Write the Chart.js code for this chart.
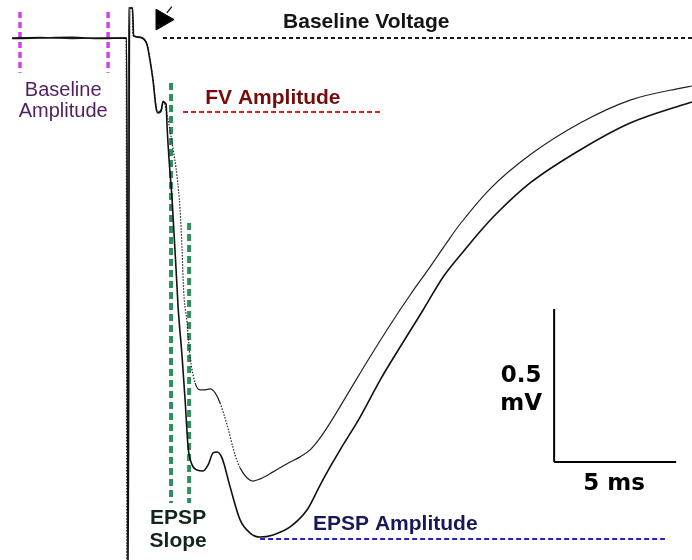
<!DOCTYPE html>
<html>
<head>
<meta charset="utf-8">
<script src="https://cdn.jsdelivr.net/npm/chart.js@4/dist/chart.umd.min.js"></script>
<style>
  html, body { margin: 0; padding: 0; background: #fff; }
  #wrap { width: 692px; height: 560px; }
</style>
</head>
<body>
<div id="wrap"><canvas id="trace" width="692" height="560"></canvas></div>
<script>
// two field EPSP sweeps: time in ms (stimulus at 0), voltage in mV (baseline at 0)
const upperTime = [-4.754, -3.607, -2.295, -1.148, -0.082, -0.041, 0.020, 0.164, 0.205, 0.492,
  0.656, 0.779, 0.902, 1.025, 1.148, 1.230, 1.352, 1.434, 1.639, 1.803,
  2.008, 2.131, 2.213, 2.275, 2.418, 2.541, 2.746, 2.951, 3.156, 3.361,
  3.566, 3.770, 4.057, 4.385, 4.590, 4.877, 5.123, 5.410, 5.943, 6.639,
  7.049, 7.459, 7.869, 8.279, 9.098, 9.918, 10.738, 11.557, 12.377, 13.074,
  13.607, 14.836, 16.475, 18.525, 20.574, 22.705, 23.115];
const upperVolt = [0, 0.002, -0.002, 0, 0, -1.837, 0.098, 0.098, 0.007, 0.003,
  -0.003, -0.020, -0.072, -0.137, -0.225, -0.242, -0.235, -0.206, -0.268, -0.343,
  -0.454, -0.562, -0.693, -0.824, -0.931, -1.042, -1.127, -1.150, -1.150, -1.147,
  -1.160, -1.193, -1.265, -1.363, -1.405, -1.438, -1.448, -1.441, -1.418, -1.386,
  -1.369, -1.346, -1.307, -1.258, -1.150, -1.042, -0.938, -0.840, -0.748, -0.667,
  -0.608, -0.493, -0.382, -0.278, -0.203, -0.163, -0.157];

const lowerTime = [-4.754, -3.607, -2.295, -1.148, -0.061, 0, 0.061, 0.184, 0.225, 0.492,
  0.656, 0.779, 0.902, 1.025, 1.148, 1.230, 1.352, 1.434, 1.557, 1.598,
  1.680, 1.803, 1.885, 1.967, 2.049, 2.213, 2.336, 2.459, 2.623, 2.828,
  3.074, 3.279, 3.484, 3.648, 3.852, 4.180, 4.590, 5.000, 5.410, 5.943,
  6.639, 7.336, 7.869, 8.279, 8.689, 9.508, 10.328, 11.148, 12.090, 12.910,
  13.893, 14.549, 15.123, 16.475, 18.525, 20.574, 22.705, 23.115];
const lowerVolt = [-0.002, 0, 0.002, -0.002, 0, -1.837, 0.098, 0.098, 0.007, 0.002,
  -0.005, -0.023, -0.075, -0.141, -0.229, -0.245, -0.239, -0.209, -0.216, -0.291,
  -0.399, -0.529, -0.644, -0.758, -0.879, -1.042, -1.183, -1.337, -1.395, -1.412,
  -1.415, -1.395, -1.356, -1.353, -1.373, -1.467, -1.575, -1.618, -1.631, -1.624,
  -1.598, -1.542, -1.461, -1.402, -1.346, -1.239, -1.118, -1.010, -0.889, -0.781,
  -0.683, -0.621, -0.572, -0.474, -0.366, -0.278, -0.219, -0.209];

// measurement markers (ms / mV)
const baselineWindow = [-4.43, -0.82];
const baselineWindowSpan = [0.085, -0.114];
const baselineVoltageFrom = 1.43;
const fvTrough = -0.242;
const fvSpan = [2.25, 10.41];
const slopeLines = [1.76, 2.50];
const slopeTops = [-0.147, -0.605];
const slopeBottom = -1.52;
const epspPeak = -1.631;
const epspSpan = [5.41, 22.0];
const stimMark = { x: 1.39, y: 0.06 };

// scale bar: 5 ms by 0.5 mV
const scaleOrigin = { x: 17.46, y: -1.386 };
const scaleMs = 5;
const scaleMv = 0.5;

const labels = [
  { text: 'Baseline Voltage', x: 6.35, y: 0.033, font: 'bold 21px "Liberation Sans", Arial', color: '#141414', align: 'left' },
  { text: 'FV Amplitude', x: 3.16, y: -0.216, font: 'bold 21px "Liberation Sans", Arial', color: '#760b0b', align: 'left' },
  { text: 'Baseline', x: -2.66, y: -0.190, font: '20px "Liberation Sans", Arial', color: '#4f1f60', align: 'center' },
  { text: 'Amplitude', x: -2.66, y: -0.258, font: '20px "Liberation Sans", Arial', color: '#4f1f60', align: 'center' },
  { text: 'EPSP', x: 2.05, y: -1.588, font: 'bold 21px "Liberation Sans", Arial', color: '#0f2618', align: 'center' },
  { text: 'Slope', x: 2.05, y: -1.663, font: 'bold 21px "Liberation Sans", Arial', color: '#0f2618', align: 'center' },
  { text: 'EPSP Amplitude', x: 7.58, y: -1.608, font: 'bold 21px "Liberation Sans", Arial', color: '#17175c', align: 'left' },
  { text: '0.5', x: 16.11, y: -1.124, font: 'bold 23px "DejaVu Sans"', color: '#000', align: 'center' },
  { text: 'mV', x: 16.11, y: -1.216, font: 'bold 23px "DejaVu Sans"', color: '#000', align: 'center' },
  { text: '5 ms', x: 19.92, y: -1.477, font: 'bold 23px "DejaVu Sans"', color: '#000', align: 'center' }
];

const toXY = (ts, vs) => ts.map((t, i) => ({ x: t, y: vs[i] }));
const seg = (x0, y0, x1, y1) => [{ x: x0, y: y0 }, { x: x1, y: y1 }];

function marker(data, color, width, dash) {
  return { data, borderColor: color, borderWidth: width, borderDash: dash, pointRadius: 0, tension: 0 };
}

// text labels placed through the scales
const textPlugin = {
  id: 'textLabels',
  afterDatasetsDraw(chart) {
    const ctx = chart.ctx;
    const xs = chart.scales.x, ys = chart.scales.y;
    ctx.save();
    ctx.textBaseline = 'alphabetic';
    labels.forEach(l => {
      ctx.font = l.font;
      ctx.fillStyle = l.color;
      ctx.textAlign = l.align;
      ctx.fillText(l.text, xs.getPixelForValue(l.x), ys.getPixelForValue(l.y));
    });
    ctx.restore();
  }
};

new Chart(document.getElementById('trace'), {
  type: 'line',
  data: {
    datasets: [
      {
        data: toXY(lowerTime, lowerVolt),
        borderColor: '#111', borderWidth: 1.6, pointRadius: 0,
        cubicInterpolationMode: 'monotone'
      },
      {
        data: toXY(upperTime, upperVolt),
        borderColor: '#222', borderWidth: 1.2, pointRadius: 0,
        cubicInterpolationMode: 'monotone',
        // fast falling parts of this sweep are sparsely sampled
        segment: {
          borderDash: c => {
            const dv = c.p1.parsed.y - c.p0.parsed.y;
            const dt = c.p1.parsed.x - c.p0.parsed.x;
            return dv / dt < -0.2 ? [1.5, 1.5] : undefined;
          }
        }
      },
      {
        type: 'scatter',
        data: [stimMark],
        pointStyle: 'triangle', rotation: 90, pointRadius: 12,
        backgroundColor: '#000', borderColor: '#000', borderWidth: 1
      },
      marker(seg(stimMark.x + 0.2, stimMark.y + 0.022, stimMark.x + 0.4, stimMark.y + 0.042), '#000', 1.2, []),
      marker(seg(scaleOrigin.x, scaleOrigin.y + scaleMv, scaleOrigin.x, scaleOrigin.y), '#000', 2, []),
      marker(seg(scaleOrigin.x, scaleOrigin.y, scaleOrigin.x + scaleMs, scaleOrigin.y), '#000', 2, []),
      marker(seg(baselineVoltageFrom, 0, 23.2, 0), '#1a1a1a', 2, [4, 3]),
      marker(seg(fvSpan[0], fvTrough, fvSpan[1], fvTrough), '#e11d1d', 2, [5, 3]),
      marker(seg(epspSpan[0], epspPeak - 0.006, epspSpan[1], epspPeak - 0.006), '#2323d6', 2, [5, 3]),
      marker(seg(slopeLines[0], slopeTops[0], slopeLines[0], slopeBottom), '#2f8f5e', 4, [7, 4]),
      marker(seg(slopeLines[1], slopeTops[1], slopeLines[1], slopeBottom), '#2f8f5e', 4, [7, 4]),
      marker(seg(baselineWindow[0], baselineWindowSpan[0], baselineWindow[0], baselineWindowSpan[1]), '#d23ef0', 3.5, [6, 4]),
      marker(seg(baselineWindow[1], baselineWindowSpan[0], baselineWindow[1], baselineWindowSpan[1]), '#d23ef0', 3.5, [6, 4])
    ]
  },
  options: {
    responsive: false,
    animation: false,
    layout: { padding: 0, autoPadding: false },
    scales: {
      x: { type: 'linear', min: -5.25, max: 23.11, display: false },
      y: { type: 'linear', min: -1.706, max: 0.124, display: false }
    },
    plugins: { legend: { display: false }, tooltip: { enabled: false } }
  },
  plugins: [textPlugin]
});
</script>
</body>
</html>
